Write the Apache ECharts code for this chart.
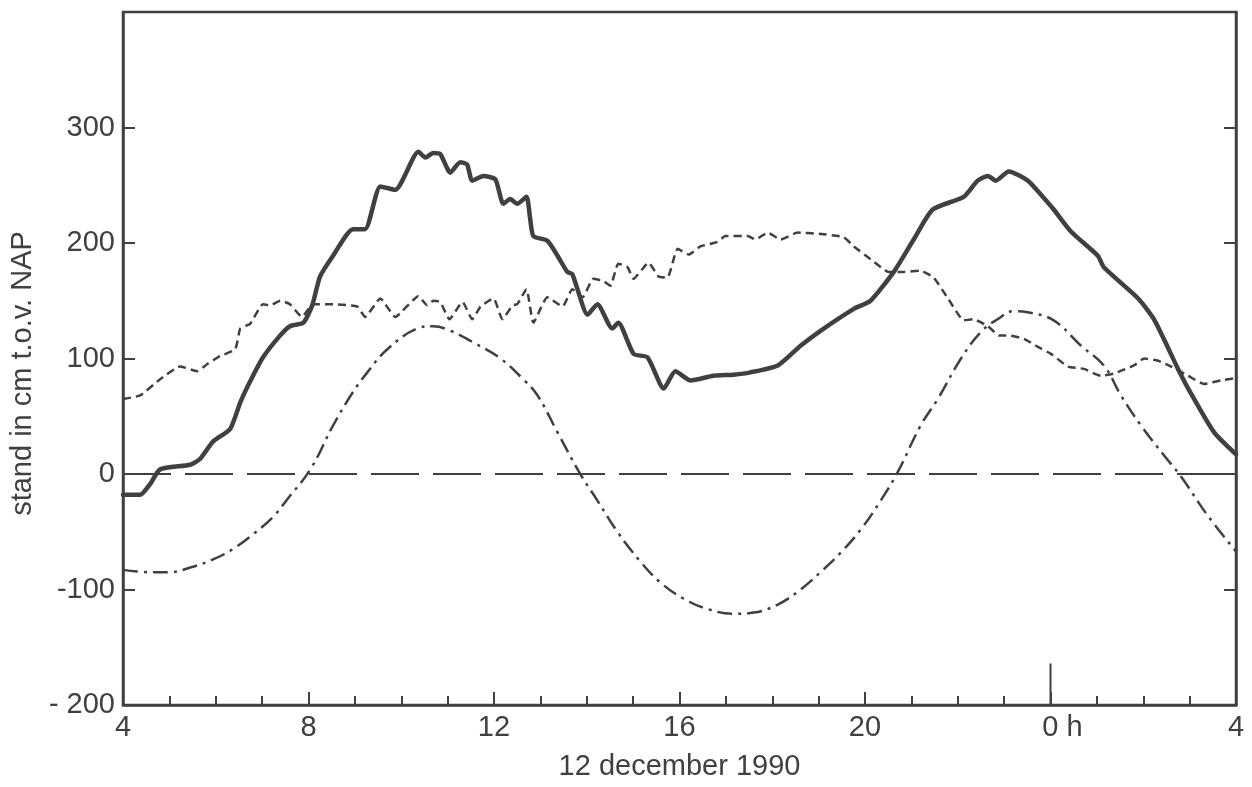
<!DOCTYPE html>
<html>
<head>
<meta charset="utf-8">
<script src="https://cdn.jsdelivr.net/npm/echarts@6/dist/echarts.min.js"></script>
<style>
html,body{margin:0;padding:0;background:#fff;}
#chart{width:1252px;height:787px;}
</style>
</head>
<body>
<div id="chart"></div>
<script>
// x in hours since 0h on 12 december 1990 (24 = 0 h on 13 dec), y in cm t.o.v. NAP
const xTicks = [4, 8, 12, 16, 20, 24, 28];
const yTicks = [-200, -100, 0, 100, 200, 300];

// measured water level (thick solid)
const measured = [
  [4.00,-18],[4.37,-18],[4.58,-9],[4.80,4],[5.45,8],[5.66,13],[5.94,28],[6.31,39],[6.53,62],
  [6.74,80],[7.02,101],[7.39,120],[7.60,128],[7.89,131],[8.08,146],[8.25,171],[8.53,189],
  [8.96,212],[9.22,212],[9.55,249],[9.87,246],[10.37,279],[10.52,274],[10.69,278],[10.84,277],
  [11.06,261],[11.27,270],[11.42,268],[11.53,254],[11.77,258],[12.03,255],[12.20,234],
  [12.35,238],[12.50,234],[12.70,240],[12.78,221],[12.85,206],[13.15,202],[13.37,189],
  [13.58,175],[13.69,173],[14.02,138],[14.23,147],[14.55,126],[14.68,131],[15.01,104],
  [15.31,101],[15.66,74],[15.91,89],[16.24,81],[16.73,85],[17.17,86],[17.53,88],[18.12,94],
  [18.61,111],[19.04,124],[19.76,143],[20.12,150],[20.62,175],[21.05,203],[21.46,229],
  [22.13,240],[22.43,254],[22.65,258],[22.82,254],[23.10,262],[23.51,254],[23.79,242],
  [24.07,229],[24.44,210],[25.02,189],[25.15,179],[25.89,152],[26.23,134],[26.75,91],
  [26.97,74],[27.53,36],[28.00,17]
];

// short-dashed curve
const dashed = [
  [4.00,65],[4.37,68],[4.80,82],[5.23,93],[5.60,89],[5.81,95],[6.09,102],[6.42,108],[6.53,126],
  [6.74,130],[7.02,147],[7.17,146],[7.39,150],[7.60,147],[7.86,136],[8.10,147],[8.53,147],
  [9.05,145],[9.22,136],[9.55,152],[9.87,136],[10.37,154],[10.56,146],[10.69,150],[10.84,149],
  [11.04,134],[11.32,149],[11.53,134],[11.71,145],[11.99,152],[12.18,134],[12.40,146],
  [12.50,147],[12.70,160],[12.85,131],[13.15,153],[13.48,145],[13.69,160],[13.91,153],
  [14.14,169],[14.36,167],[14.51,163],[14.68,182],[14.88,179],[15.01,169],[15.33,183],
  [15.55,171],[15.74,170],[15.96,195],[16.20,190],[16.45,197],[16.82,201],[16.99,206],
  [17.47,206],[17.64,203],[17.90,209],[18.18,203],[18.55,209],[19.00,208],[19.54,205],
  [19.76,197],[20.12,186],[20.51,175],[20.84,175],[21.20,176],[21.48,170],[21.79,152],
  [22.13,133],[22.33,134],[22.65,128],[22.89,120],[23.08,120],[23.43,117],[23.73,110],
  [24.01,104],[24.38,93],[24.72,91],[25.09,85],[25.37,87],[25.80,94],[26.02,100],[26.32,98],
  [26.60,93],[26.97,85],[27.31,78],[27.68,81],[28.00,83]
];

// dash-dot curve (astronomical tide)
const tide = [
  [4.00,-83],[4.58,-85],[5.01,-85],[5.45,-81],[5.94,-74],[6.37,-65],[6.81,-52],[7.24,-37],
  [7.54,-22],[8.04,4],[8.53,42],[8.96,71],[9.27,88],[9.70,108],[10.35,126],[10.69,128],
  [11.06,124],[11.55,114],[12.14,100],[12.63,82],[12.94,68],[13.37,36],[13.86,0],[14.23,-23],
  [14.66,-50],[15.16,-76],[15.59,-94],[16.09,-108],[16.61,-117],[17.17,-121],[17.60,-120],
  [18.12,-113],[18.61,-100],[19.04,-85],[19.48,-68],[19.91,-48],[20.34,-23],[20.71,2],
  [21.20,42],[21.57,65],[22.07,100],[22.50,123],[22.86,134],[23.21,141],[23.51,140],
  [24.07,133],[24.66,111],[25.15,94],[25.52,68],[25.95,42],[26.45,16],[26.81,-2],
  [27.39,-36],[28.00,-67]
];

// NAP reference level (long dashes)
const napLevel = [[4, 0], [28, 0]];
// long tick marking 0 h
const midnightTick = [[24, -200], [24, -164]];

const INK = '#404040';
const FONT = '"Liberation Sans", Arial, sans-serif';

const chart = echarts.init(document.getElementById('chart'), null, {renderer: 'canvas'});
chart.setOption({
  animation: false,
  backgroundColor: '#fff',
  grid: {left: 123, right: 16, top: 12, bottom: 82, show: true, borderColor: INK, borderWidth: 2.5},
  xAxis: {
    type: 'value', min: xTicks[0], max: xTicks[xTicks.length - 1], interval: 4,
    axisLine: {show: true, onZero: false, lineStyle: {color: INK, width: 2.5}},
    axisTick: {show: true, inside: true, length: 13, lineStyle: {color: INK, width: 2}},
    minorTick: {show: true, splitNumber: 4, length: 9, lineStyle: {color: INK, width: 2}},
    splitLine: {show: false},
    axisLabel: {
      color: INK, fontSize: 29, fontFamily: FONT, margin: 8,
      formatter: function (v) {
        if (v === 24) return '{h|0 h}';
        return String(v > 24 ? v - 24 : v);
      },
      rich: {h: {fontSize: 29, fontFamily: FONT, color: INK, padding: [0, 0, 0, 24]}}
    },
    name: '12 december 1990', nameLocation: 'middle', nameGap: 47,
    nameTextStyle: {color: INK, fontSize: 29, fontFamily: FONT}
  },
  yAxis: [{
    type: 'value', min: -200, max: 400, interval: 100,
    axisLine: {show: true, onZero: false, lineStyle: {color: INK, width: 2.5}},
    axisTick: {show: true, inside: true, length: 12, lineStyle: {color: INK, width: 2}},
    splitLine: {show: false},
    axisLabel: {
      color: INK, fontSize: 29, fontFamily: FONT, margin: 8,
      formatter: function (v) {
        if (yTicks.indexOf(v) < 0) return '';
        if (v === -200) return '- 200';
        return String(v);
      }
    },
    name: 'stand in cm t.o.v. NAP', nameLocation: 'middle', nameGap: 86, nameRotate: 90,
    nameTextStyle: {color: INK, fontSize: 29, fontFamily: FONT, padding: [0, 30, 0, 0]}
  }, {
    type: 'value', min: -200, max: 400, interval: 100, position: 'right',
    axisLine: {show: true, onZero: false, lineStyle: {color: INK, width: 2.5}},
    axisTick: {show: true, inside: true, length: 12, lineStyle: {color: INK, width: 2}},
    splitLine: {show: false},
    axisLabel: {show: false}
  }],
  series: [
    {
      type: 'line', data: napLevel, symbol: 'none', silent: true,
      lineStyle: {color: INK, width: 2, type: [48, 14]}
    },
    {
      type: 'line', data: midnightTick, symbol: 'none', silent: true,
      lineStyle: {color: INK, width: 2, type: 'solid'}
    },
    {
      type: 'line', data: tide, symbol: 'none', smooth: 0.4, silent: true,
      lineStyle: {color: INK, width: 2.5, type: [15, 6, 3, 6]}
    },
    {
      type: 'line', data: dashed, symbol: 'none', smooth: 0.15, silent: true,
      lineStyle: {color: INK, width: 2.5, type: [8, 5]}
    },
    {
      type: 'line', data: measured, symbol: 'none', smooth: 0.2, silent: true,
      lineStyle: {color: INK, width: 4.5, type: 'solid', join: 'round', cap: 'round'}
    }
  ]
});
</script>
</body>
</html>
